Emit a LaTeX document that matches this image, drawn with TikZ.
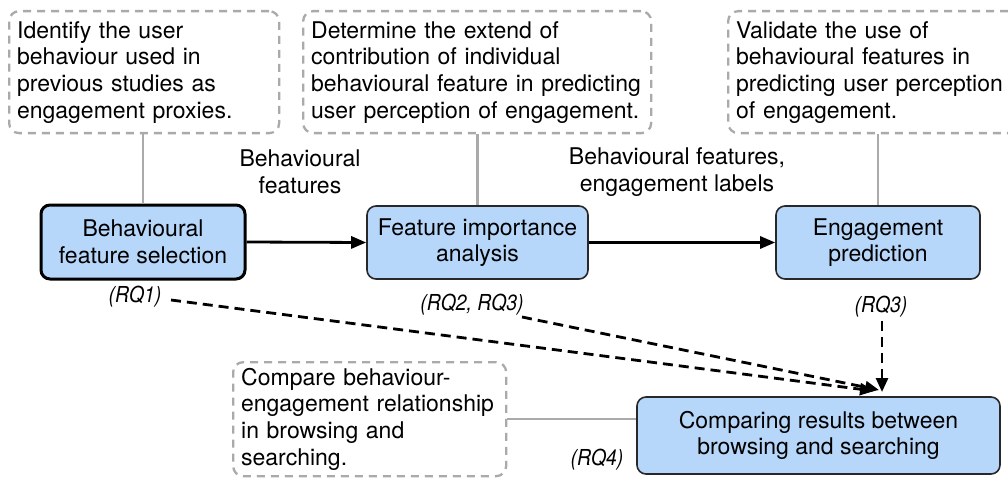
\documentclass[tikz,border=0pt]{standalone}
\usepackage{fontspec}
\setmainfont{TeX Gyre Heros}
\newfontfamily\rqfont[FakeStretch=0.88]{TeX Gyre Heros}
\usetikzlibrary{arrows.meta}
\definecolor{boxblue}{RGB}{182,215,250}
\definecolor{dashgray}{RGB}{170,170,170}
\definecolor{edgegray}{RGB}{40,40,40}
\begin{document}
\begin{tikzpicture}[x=1pt,y=-1pt,
  txt/.style={font=\fontsize{23}{26.7}\selectfont},
  note/.style={draw=dashgray, line width=2.3pt, dash pattern=on 8pt off 6pt,
    rounded corners=10pt, anchor=north west, align=left,
    inner xsep=8pt, inner ysep=0pt, txt},
  proc/.style={draw=edgegray, fill=boxblue, line width=1.6pt, rounded corners=9pt,
    align=center, txt, inner sep=0pt},
  flow/.style={-{Triangle[length=15pt,width=12pt]}, line width=2.8pt},
  dflow/.style={-{Triangle[length=14pt,width=12pt]}, line width=2.8pt,
    dash pattern=on 10pt off 6pt},
  link/.style={draw=dashgray, line width=2.3pt},
  rq/.style={font=\rqfont\fontsize{22}{26}\itshape\selectfont, inner sep=1pt},
  lbl/.style={align=center, txt}]
\useasboundingbox (0,0) rectangle (1008,481);

% dashed notes
\node[note, minimum width=270pt, text width=254pt, minimum height=122pt] (n1) at (8,10)
  {Identify the user\\behaviour used in\\previous studies as\\engagement proxies.};
\node[note, minimum width=348pt, text width=332pt, minimum height=122pt] (n2) at (302,10)
  {Determine the extend of\\contribution of individual\\behavioural feature in predicting\\user perception of engagement.};
\node[note, minimum width=290pt, text width=274pt, minimum height=122pt] (n3) at (727,10)
  {Validate the use of\\behavioural features in\\predicting user perception\\of engagement.};
\node[note, minimum width=273pt, text width=257pt, minimum height=114pt] (n4) at (232,361)
  {Compare behaviour-\\engagement relationship\\in browsing and\\searching.};

% process boxes
\node[proc, line width=3pt, draw=black, minimum width=204pt, minimum height=74pt] (b1) at (143,242)
  {Behavioural\\feature selection};
\node[proc, minimum width=221pt, minimum height=73pt] (b2) at (477.5,242.5)
  {Feature importance\\analysis};
\node[proc, minimum width=204pt, minimum height=73pt] (b3) at (878,242.5)
  {Engagement\\prediction};
\node[proc, minimum width=363pt, minimum height=77pt] (b4) at (818.5,435.5)
  {Comparing results between\\browsing and searching};

% links from notes
\draw[link] (b1.north |- n1.south) -- (b1.north);
\draw[link] (b2.north |- n2.south) -- (b2.north);
\draw[link] (b3.north |- n3.south) -- (b3.north);
\draw[link] (n4.east) -- (b4.west |- n4.east);

% flow
\draw[flow] (b1.east) -- (b2.west);
\draw[flow] (b2.east) -- (b3.west);

% edge labels
\node[lbl] (l1) at (300,172) {Behavioural\\features};
\node[lbl] (l2) at (677,172) {Behavioural features,\\engagement labels};

% RQ labels
\node[rq] (rq1) at (135,297) {(RQ1)};
\node[rq] (rq2) at (472,305) {(RQ2, RQ3)};
\node[rq] (rq3) at (881,307) {(RQ3)};
\node[rq] (rq4) at (597,460) {(RQ4)};

% dashed arrows
\coordinate (s1) at (171,300);
\coordinate (t1) at (874,391);
\coordinate (s2) at (522,317);
\coordinate (t2) at (879,390);
\coordinate (t3) at (882,392);
\draw[dflow] (s1) -- (t1);
\draw[dflow] (s2) -- (t2);
\draw[dflow] (rq3.south -| t3) ++(0,2) -- (t3);
\end{tikzpicture}
\end{document}
